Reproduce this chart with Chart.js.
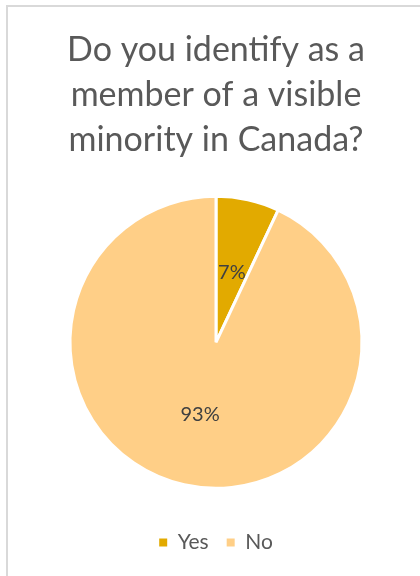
<!DOCTYPE html>
<html>
<head>
<meta charset="utf-8">
<script src="https://cdn.jsdelivr.net/npm/chart.js@4"></script>
<style>
  html, body { margin: 0; padding: 0; background: #fff; }
  #wrap { position: relative; width: 420px; height: 576px; }
  /* thin frame on the top and left of the chart box */
  #frame { position: absolute; left: 6px; top: 5px; right: 0; bottom: 0;
           border-top: 2px solid #D9D9D9; border-left: 2px solid #D9D9D9; }
  canvas { position: absolute; left: 0; top: 0; }
</style>
</head>
<body>
<div id="wrap">
  <div id="frame"></div>
  <canvas id="pieChart" width="420" height="576"></canvas>
</div>
<script>
// Survey answers
const categories = ["Yes", "No"];
const shares = [7, 93];
const sliceColors = ["#E2AA00", "#FFCF87"];
const titleLines = ["Do you identify as a", "member of a visible", "minority in Canada?"];

const fontFamily = "Lato, 'Open Sans', sans-serif";

// Percent labels inside each slice, halfway out from the centre
const sliceLabels = {
    id: 'sliceLabels',
    afterDatasetsDraw(chart) {
        const ctx = chart.ctx;
        const meta = chart.getDatasetMeta(0);
        ctx.save();
        ctx.font = '20px ' + fontFamily;
        ctx.fillStyle = '#404040';
        ctx.textAlign = 'center';
        ctx.textBaseline = 'middle';
        meta.data.forEach((arc, i) => {
            const pos = arc.tooltipPosition();
            ctx.fillText(shares[i] + '%', pos.x, pos.y + 1);
        });
        ctx.restore();
    }
};

// legend squares without the white slice border
function legendLabels(chart) {
    const items = Chart.overrides.pie.plugins.legend.labels.generateLabels(chart);
    return items.map(item => Object.assign(item, { lineWidth: 0 }));
}

const ctx = document.getElementById('pieChart').getContext('2d');
const pieChart = new Chart(ctx, {
    type: 'pie',
    data: {
        labels: categories,
        datasets: [{
            data: shares,
            backgroundColor: sliceColors,
            borderColor: '#FFFFFF',
            borderWidth: 3,
            radius: 146
        }]
    },
    options: {
        responsive: false,
        animation: false,
        layout: {
            padding: { left: 12, right: 0, top: 0, bottom: 13 }
        },
        plugins: {
            title: {
                display: true,
                text: titleLines,
                color: '#595959',
                font: { family: fontFamily, size: 34, weight: 'normal', lineHeight: 1.32 },
                padding: { top: 28, bottom: 8 }
            },
            legend: {
                position: 'bottom',
                labels: {
                    color: '#595959',
                    font: { family: fontFamily, size: 21 },
                    boxWidth: 8,
                    boxHeight: 8,
                    padding: 18,
                    generateLabels: legendLabels
                }
            },
            tooltip: { enabled: false }
        }
    },
    plugins: [sliceLabels]
});
</script>
</body>
</html>
